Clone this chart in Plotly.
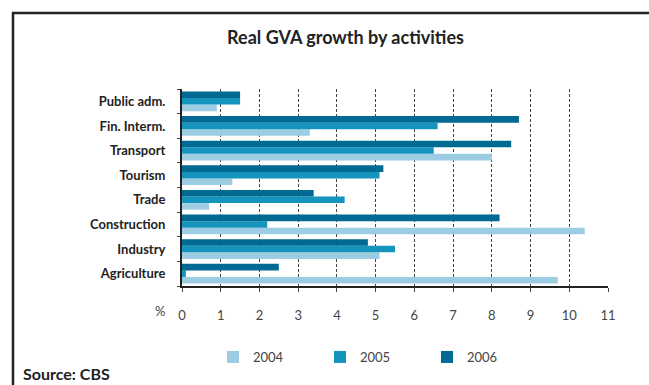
import plotly.graph_objects as go

# Real gross value added growth, % by activity
activities = ["Public adm.", "Fin. Interm.", "Transport", "Tourism",
              "Trade", "Construction", "Industry", "Agriculture"]
growth_2004 = [0.9, 3.3, 8.0, 1.3, 0.7, 10.4, 5.1, 9.7]
growth_2005 = [1.5, 6.6, 6.5, 5.1, 4.2, 2.2, 5.5, 0.1]
growth_2006 = [1.5, 8.7, 8.5, 5.2, 3.4, 8.2, 4.8, 2.5]
x_ticks = list(range(0, 12))

years = ["2004", "2005", "2006"]
series = [growth_2004, growth_2005, growth_2006]
colors = ["#9dcde3", "#1594bd", "#006a93"]

W, H = 649, 385
L, R, T, B = 182, 41, 89, 99
pw, ph = W - L - R, H - T - B


def px(x):
    return (x - L) / pw


def py(y):
    return (H - B - y) / ph


fig = go.Figure()
for name, vals, col in zip(years, series, colors):
    fig.add_trace(go.Bar(
        y=activities, x=vals, name=name, orientation="h",
        marker=dict(color=col, line=dict(width=0)),
    ))

font_family = "Lato, 'Open Sans', sans-serif"

fig.update_layout(
    width=W, height=H,
    margin=dict(l=L, r=R, t=T, b=B, pad=0),
    paper_bgcolor="white", plot_bgcolor="white",
    barmode="group", bargap=0.2, bargroupgap=0,
    font=dict(family=font_family, color="#333"),
    showlegend=True,
    legend=dict(orientation="h", x=px(213), y=py(357), xanchor="left",
                yanchor="middle", entrywidth=62, entrywidthmode="pixels",
                font=dict(size=13, color="#444"), traceorder="normal",
                bgcolor="rgba(0,0,0,0)"),
    xaxis=dict(range=[0, 11], tickvals=x_ticks, ticktext=[str(v) for v in x_ticks],
               showgrid=True, gridcolor="#444", griddash="3px,2px", gridwidth=1,
               showline=True, linecolor="#222", linewidth=2,
               ticks="outside", ticklen=4, tickcolor="#444", tickwidth=1,
               ticklabelstandoff=12, tickfont=dict(size=13, color="#444"),
               zeroline=False, fixedrange=True),
    yaxis=dict(categoryorder="array", categoryarray=activities[::-1],
               showline=True, linecolor="#222", linewidth=2,
               ticks="outside", ticklen=3, tickcolor="#444", tickson="boundaries",
               ticklabelstandoff=12,
               tickfont=dict(size=13, color="#222", family=font_family, weight="bold"),
               showgrid=False, fixedrange=True),
    title=dict(text="<b>Real GVA growth by activities</b>", xref="container",
               x=345.5 / W, xanchor="center",
               yref="container", y=1 - 38 / H, yanchor="middle",
               font=dict(size=18, color="#222", family=font_family)),
    annotations=[
        dict(text="%", xref="paper", yref="paper", x=px(160), y=py(311),
             xanchor="center", yanchor="middle", showarrow=False,
             font=dict(size=13, color="#444")),
        dict(text="<b>Source: CBS</b>", xref="paper", yref="paper", x=px(21), y=py(373),
             xanchor="left", yanchor="middle", showarrow=False,
             font=dict(size=16, color="#222")),
    ],
    shapes=[
        dict(type="line", xref="paper", yref="paper", x0=px(12), x1=px(W + 5),
             y0=py(13), y1=py(13), line=dict(color="#222", width=2.5)),
        dict(type="line", xref="paper", yref="paper", x0=px(13), x1=px(13),
             y0=py(12), y1=py(H + 5), line=dict(color="#222", width=2.5)),
    ],
)

fig.write_html("out.html")
